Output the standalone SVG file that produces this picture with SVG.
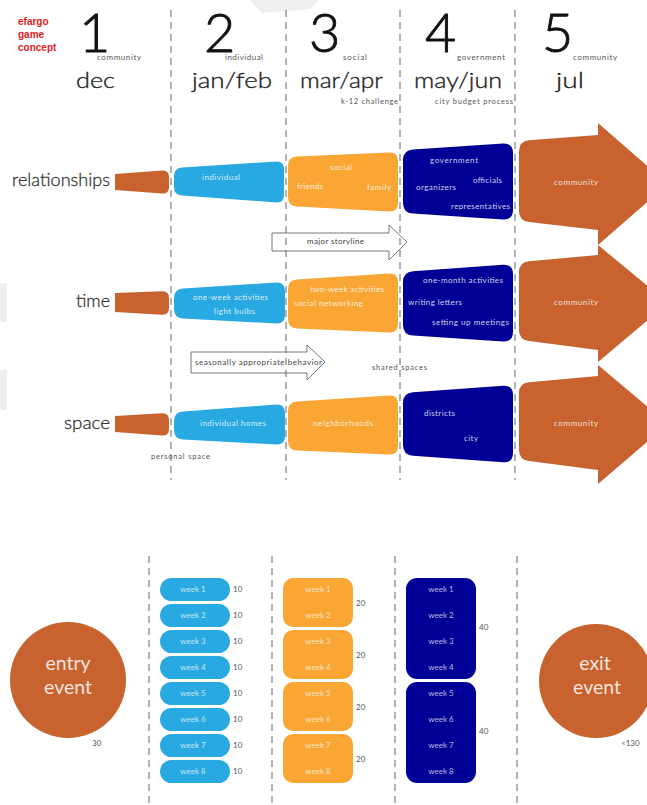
<svg xmlns="http://www.w3.org/2000/svg" width="647" height="805" viewBox="0 0 647 805">
  <style>
    text { font-family: Lato, "Open Sans", "Liberation Sans", sans-serif; }
    .num { font-size: 54px; font-weight: 300; fill: #111; stroke: #111; stroke-width: 0.9; }
    .tag { font-size: 8px; fill: #555; }
    .month { font-size: 22px; font-weight: 300; fill: #222; stroke: #222; stroke-width: 0.35; }
    .note { font-size: 7.5px; fill: #555; }
    .row { font-size: 18px; font-weight: 300; fill: #333; stroke: #333; stroke-width: 0.3; }
    .in { font-size: 8px; fill: #ffffff; fill-opacity: 0.82; }
    .brand { font-family: "Liberation Sans", Arial, sans-serif; font-size: 10px; font-weight: bold; fill: #e0201c; }
    .guide { stroke: #666; stroke-width: 1; stroke-dasharray: 7 5; fill: none; }
    .orange { fill: #c8632f; }
    .blue { fill: #29a9e1; }
    .yellow { fill: #f9a635; }
    .navy { fill: #000096; }
    .story { fill: #ffffff; stroke: #777; stroke-width: 1; }
    .storytext { font-size: 8px; fill: #444; }
    .wk { font-size: 8px; text-anchor: middle; fill: #ffffff; fill-opacity: 0.72; }
    .cnt { font-size: 8px; fill: #555; }
    .big { font-size: 19.5px; font-weight: 400; fill: #ffffff; fill-opacity: 0.85; text-anchor: middle; }
  </style>

  <!-- faint background marks -->
  <g id="marks" fill="#efefef">
    <polygon points="250,0 318,0 310,9 262,13"/>
    <rect x="0" y="283" width="7" height="39" rx="2"/>
    <rect x="0" y="370" width="7" height="40" rx="2"/>
  </g>

  <!-- header -->
  <g id="brand">
    <text class="brand" x="18" y="25">efargo</text>
    <text class="brand" x="18" y="38">game</text>
    <text class="brand" x="18" y="51">concept</text>
  </g>
  <g id="phase-1">
    <text class="num" x="79" y="52">1</text>
    <text class="tag" x="97" y="60" textLength="44">community</text>
    <text class="month" x="76" y="88" textLength="39" lengthAdjust="spacingAndGlyphs">dec</text>
  </g>
  <g id="phase-2">
    <text class="num" x="204" y="52">2</text>
    <text class="tag" x="225" y="60" textLength="38">individual</text>
    <text class="month" x="192" y="88" textLength="80" lengthAdjust="spacingAndGlyphs">jan/feb</text>
  </g>
  <g id="phase-3">
    <text class="num" x="309" y="52">3</text>
    <text class="tag" x="343" y="60" textLength="24">social</text>
    <text class="month" x="300" y="88" textLength="83" lengthAdjust="spacingAndGlyphs">mar/apr</text>
    <text class="note" x="341" y="104" textLength="57">k-12 challenge</text>
  </g>
  <g id="phase-4">
    <text class="num" x="425" y="52">4</text>
    <text class="tag" x="457" y="60" textLength="48">government</text>
    <text class="month" x="414" y="88" textLength="88" lengthAdjust="spacingAndGlyphs">may/jun</text>
    <text class="note" x="435" y="104" textLength="78">city budget process</text>
  </g>
  <g id="phase-5">
    <text class="num" x="542" y="52">5</text>
    <text class="tag" x="573" y="60" textLength="44">community</text>
    <text class="month" x="556" y="88" textLength="28" lengthAdjust="spacingAndGlyphs">jul</text>
  </g>

  <!-- relationships row -->
  <g id="relationships">
    <text class="row" x="12" y="186" textLength="98" lengthAdjust="spacingAndGlyphs">relationships</text>
    <path class="orange" d="M115,174 L162,170.5 Q169,170 169,177 L169,187 Q169,194 162,193.6 L115,190 Z"/>
    <path class="blue" d="M174,176 Q174,168 182,167.5 L276,161.5 Q284,161 284,169 L284,195 Q284,203 276,202.5 L182,195.5 Q174,195 174,187 Z"/>
    <text class="in" x="202" y="180" textLength="38">individual</text>
    <path class="yellow" d="M288,166 Q288,157 297,156.6 L389,152.4 Q398,152 398,161 L398,203 Q398,212 389,211.5 L297,206.5 Q288,206 288,197 Z"/>
    <text class="in" x="330" y="170" textLength="22">social</text>
    <text class="in" x="297" y="189" textLength="26">friends</text>
    <text class="in" x="367" y="190" textLength="24">family</text>
    <path class="navy" d="M403,160 Q403,150 413,149.4 L503,143.6 Q513,143 513,153 L513,210 Q513,220 503,219.4 L413,213.6 Q403,213 403,203 Z"/>
    <text class="in" x="430" y="163" textLength="48">government</text>
    <text class="in" x="473" y="183" textLength="29">officials</text>
    <text class="in" x="416" y="190" textLength="40">organizers</text>
    <text class="in" x="451" y="209" textLength="59">representatives</text>
    <path class="orange" d="M519,152 Q519,141 529,140.3 L598,135 L598,123 L668,184 L598,245 L598,230 L529,222 Q519,221 519,211 Z"/>
    <text class="in" x="554" y="185" textLength="44">community</text>
  </g>

  <!-- time row -->
  <g id="time">
    <text class="row" x="76" y="307" textLength="34" lengthAdjust="spacingAndGlyphs">time</text>
    <path class="orange" d="M115,293 L162,291.3 Q169,291 169,298 L169,308 Q169,315 162,314.7 L115,312 Z"/>
    <path class="blue" d="M174,298 Q174,289 183,288.5 L276,282.5 Q285,282 285,291 L285,315 Q285,324 276,323.5 L183,318.5 Q174,318 174,309 Z"/>
    <text class="in" x="193" y="300" textLength="75">one-week activities</text>
    <text class="in" x="214" y="314" textLength="41">light bulbs</text>
    <path class="yellow" d="M288,289 Q288,280 297,279.4 L389,273.6 Q398,273 398,282 L398,324 Q398,333 389,332.6 L297,328.4 Q288,328 288,319 Z"/>
    <text class="in" x="310" y="292" textLength="74">two-week activities</text>
    <text class="in" x="294" y="306" textLength="69">social networking</text>
    <path class="navy" d="M403,282 Q403,272 413,271.3 L503,264.7 Q513,264 513,274 L513,332 Q513,342 503,341.4 L413,335.6 Q403,335 403,325 Z"/>
    <text class="in" x="423" y="283" textLength="80">one-month activities</text>
    <text class="in" x="408" y="305" textLength="54">writing letters</text>
    <text class="in" x="432" y="325" textLength="77">setting up meetings</text>
    <path class="orange" d="M519,272 Q519,262 529,261.2 L598,255 L598,245 L668,303 L598,362 L598,350 L529,341 Q519,340 519,330 Z"/>
    <text class="in" x="554" y="305" textLength="44">community</text>
  </g>

  <!-- space row -->
  <g id="space">
    <text class="row" x="64" y="429" textLength="46" lengthAdjust="spacingAndGlyphs">space</text>
    <path class="orange" d="M115,416 L162,413.3 Q169,413 169,420 L169,429 Q169,436 162,435.6 L115,432 Z"/>
    <path class="blue" d="M174,421 Q174,412 183,411.4 L276,404.6 Q285,404 285,413 L285,436 Q285,445 276,444.5 L183,439.5 Q174,439 174,430 Z"/>
    <text class="in" x="200" y="426" textLength="66">individual homes</text>
    <path class="yellow" d="M288,411 Q288,402 297,401.4 L389,395.6 Q398,395 398,404 L398,446 Q398,455 389,454.6 L297,450.4 Q288,450 288,441 Z"/>
    <text class="in" x="313" y="426" textLength="60">neighborhoods</text>
    <path class="navy" d="M403,403 Q403,393 413,392.3 L503,385.7 Q513,385 513,395 L513,453 Q513,463 503,462.3 L413,455.7 Q403,455 403,445 Z"/>
    <text class="in" x="424" y="416" textLength="31">districts</text>
    <text class="in" x="464" y="441" textLength="14">city</text>
    <path class="orange" d="M519,393 Q519,383 529,382.2 L598,376 L598,365 L668,424 L598,484 L598,470 L529,461 Q519,460 519,450 Z"/>
    <text class="in" x="554" y="426" textLength="44">community</text>
    <text class="note" x="151" y="459" textLength="59">personal space</text>
    <text class="note" x="372" y="370" textLength="55">shared spaces</text>
  </g>

  <!-- storyline arrows -->
  <g id="connectors">
    <path class="story" d="M272,233 L389,233 L389,225 L407,242 L389,260 L389,251 L272,251 Z"/>
    <text class="storytext" x="307" y="244" textLength="57">major storyline</text>
    <path class="story" d="M191,352 L307,352 L307,345 L325,362 L307,380 L307,373 L191,373 Z"/>
    <text class="storytext" x="195" y="365" textLength="127">seasonally appropriate behavior</text>
  </g>

  <!-- phase dividers -->
  <g id="guides">
    <line class="guide" x1="171" y1="10" x2="171" y2="480"/>
    <line class="guide" x1="286" y1="10" x2="286" y2="480"/>
    <line class="guide" x1="400" y1="10" x2="400" y2="480"/>
    <line class="guide" x1="515" y1="10" x2="515" y2="480"/>
    <line class="guide" x1="149" y1="556" x2="149" y2="805"/>
    <line class="guide" x1="272" y1="556" x2="272" y2="805"/>
    <line class="guide" x1="395" y1="556" x2="395" y2="805"/>
    <line class="guide" x1="517" y1="556" x2="517" y2="805"/>
  </g>

  <!-- schedule -->
  <g id="entry-event">
    <circle class="orange" cx="68" cy="680" r="58"/>
    <text class="big" x="68" y="670">entry</text>
    <text class="big" x="68" y="694">event</text>
    <text class="cnt" x="92" y="746">30</text>
  </g>

  <g id="weekly">
    <g class="blue">
      <rect x="160" y="578" width="70" height="23" rx="11.5"/>
      <rect x="160" y="604" width="70" height="23" rx="11.5"/>
      <rect x="160" y="630" width="70" height="23" rx="11.5"/>
      <rect x="160" y="656" width="70" height="23" rx="11.5"/>
      <rect x="160" y="682" width="70" height="23" rx="11.5"/>
      <rect x="160" y="708" width="70" height="23" rx="11.5"/>
      <rect x="160" y="734" width="70" height="23" rx="11.5"/>
      <rect x="160" y="760" width="70" height="23" rx="11.5"/>
    </g>
    <text class="wk" x="193" y="592">week 1</text>
    <text class="wk" x="193" y="618">week 2</text>
    <text class="wk" x="193" y="644">week 3</text>
    <text class="wk" x="193" y="670">week 4</text>
    <text class="wk" x="193" y="696">week 5</text>
    <text class="wk" x="193" y="722">week 6</text>
    <text class="wk" x="193" y="748">week 7</text>
    <text class="wk" x="193" y="774">week 8</text>
    <text class="cnt" x="233" y="592">10</text>
    <text class="cnt" x="233" y="618">10</text>
    <text class="cnt" x="233" y="644">10</text>
    <text class="cnt" x="233" y="670">10</text>
    <text class="cnt" x="233" y="696">10</text>
    <text class="cnt" x="233" y="722">10</text>
    <text class="cnt" x="233" y="748">10</text>
    <text class="cnt" x="233" y="774">10</text>
  </g>

  <g id="biweekly">
    <g class="yellow">
      <rect x="283" y="578" width="70" height="49" rx="10"/>
      <rect x="283" y="630" width="70" height="49" rx="10"/>
      <rect x="283" y="682" width="70" height="49" rx="10"/>
      <rect x="283" y="734" width="70" height="49" rx="10"/>
    </g>
    <text class="wk" x="318" y="592">week 1</text>
    <text class="wk" x="318" y="618">week 2</text>
    <text class="wk" x="318" y="644">week 3</text>
    <text class="wk" x="318" y="670">week 4</text>
    <text class="wk" x="318" y="696">week 5</text>
    <text class="wk" x="318" y="722">week 6</text>
    <text class="wk" x="318" y="748">week 7</text>
    <text class="wk" x="318" y="774">week 8</text>
    <text class="cnt" x="356" y="606">20</text>
    <text class="cnt" x="356" y="658">20</text>
    <text class="cnt" x="356" y="710">20</text>
    <text class="cnt" x="356" y="762">20</text>
  </g>

  <g id="monthly">
    <g class="navy">
      <rect x="406" y="578" width="70" height="101" rx="11"/>
      <rect x="406" y="682" width="70" height="101" rx="11"/>
    </g>
    <text class="wk" x="441" y="592">week 1</text>
    <text class="wk" x="441" y="618">week 2</text>
    <text class="wk" x="441" y="644">week 3</text>
    <text class="wk" x="441" y="670">week 4</text>
    <text class="wk" x="441" y="696">week 5</text>
    <text class="wk" x="441" y="722">week 6</text>
    <text class="wk" x="441" y="748">week 7</text>
    <text class="wk" x="441" y="774">week 8</text>
    <text class="cnt" x="479" y="630">40</text>
    <text class="cnt" x="479" y="734">40</text>
  </g>

  <g id="exit-event">
    <circle class="orange" cx="596" cy="681" r="57"/>
    <text class="big" x="595" y="670">exit</text>
    <text class="big" x="597" y="694">event</text>
    <text class="cnt" x="621" y="746">&lt;130</text>
  </g>
</svg>
